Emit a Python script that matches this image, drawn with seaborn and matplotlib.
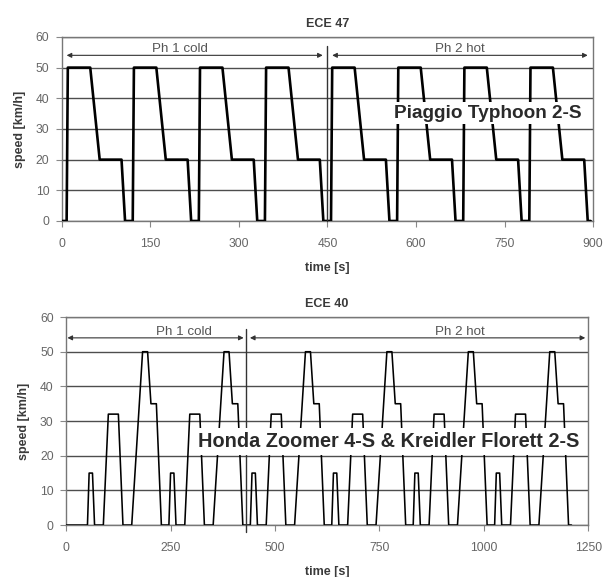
import matplotlib
matplotlib.use("Agg")
import matplotlib.pyplot as plt
import seaborn as sns
import pandas as pd

# ---------------- data ----------------
# ECE 47 (Piaggio Typhoon 2-S)
ece47_time = [0,
              8, 10, 48, 64, 101, 107,
              120, 122, 160, 176, 213, 219,
              232, 234, 272, 288, 325, 331,
              344, 346, 384, 400, 437, 443,
              456, 458, 496, 512, 549, 555,
              568, 570, 608, 624, 661, 667,
              680, 682, 720, 736, 773, 779,
              792, 794, 832, 848, 885, 891,
              896]
ece47_speed = [0,
               0, 50, 50, 20, 20, 0,
               0, 50, 50, 20, 20, 0,
               0, 50, 50, 20, 20, 0,
               0, 50, 50, 20, 20, 0,
               0, 50, 50, 20, 20, 0,
               0, 50, 50, 20, 20, 0,
               0, 50, 50, 20, 20, 0,
               0, 50, 50, 20, 20, 0,
               0]

# ECE 40 (Honda Zoomer 4-S & Kreidler Florett 2-S)
ece40_time = [0,
              51, 55, 63, 68, 89, 101, 125, 136, 157, 183, 195, 203, 216, 228,
              246, 250, 258, 263, 284, 296, 320, 331, 352, 378, 390, 398, 411, 423,
              441, 445, 453, 458, 479, 491, 515, 526, 547, 573, 585, 593, 606, 618,
              636, 640, 648, 653, 674, 686, 710, 721, 742, 768, 780, 788, 801, 813,
              831, 835, 843, 848, 869, 881, 905, 916, 937, 963, 975, 983, 996, 1008,
              1026, 1030, 1038, 1043, 1064, 1076, 1100, 1111, 1132, 1158, 1170, 1178, 1191, 1203,
              1210]
ece40_speed = [0,
               0, 15, 15, 0, 0, 32, 32, 0, 0, 50, 50, 35, 35, 0,
               0, 15, 15, 0, 0, 32, 32, 0, 0, 50, 50, 35, 35, 0,
               0, 15, 15, 0, 0, 32, 32, 0, 0, 50, 50, 35, 35, 0,
               0, 15, 15, 0, 0, 32, 32, 0, 0, 50, 50, 35, 35, 0,
               0, 15, 15, 0, 0, 32, 32, 0, 0, 50, 50, 35, 35, 0,
               0, 15, 15, 0, 0, 32, 32, 0, 0, 50, 50, 35, 35, 0,
               0]

# phases
ece47_phase_names = ["Ph 1 cold", "Ph 2 hot"]
ece47_phase_spans = [(8, 442), (458, 891)]
ece47_phase_label_x = [200, 675]
ece47_split = 450

ece40_phase_names = ["Ph 1 cold", "Ph 2 hot"]
ece40_phase_spans = [(3, 425), (440, 1243)]
ece40_phase_label_x = [281, 943]
ece40_split = 430

y_ticks = [0, 10, 20, 30, 40, 50, 60]
ece47_xticks = [0, 150, 300, 450, 600, 750, 900]
ece40_xticks = [0, 250, 500, 750, 1000, 1250]

# ---------------- style ----------------
sns.set_theme(style="white")
plt.rcParams["font.family"] = ["Liberation Sans", "DejaVu Sans"]

GRID = "#4d4d4d"
TXT = "#3a3a3a"
TICK = "#666666"

fig = plt.figure(figsize=(6.07, 5.77), dpi=100)
ax1 = fig.add_axes([0.102, 0.617, 0.875, 0.319])
ax2 = fig.add_axes([0.109, 0.090, 0.860, 0.3605])


def style_axes(ax, xticks, xmax, title):
    ax.set_xlim(0, xmax)
    ax.set_ylim(0, 60)
    ax.set_xticks(xticks)
    ax.set_yticks(y_ticks)
    ax.yaxis.grid(True, color=GRID, lw=1.0, zorder=1)
    ax.xaxis.grid(False)
    for s in ax.spines.values():
        s.set_color("#777777")
        s.set_linewidth(1.0)
    ax.tick_params(axis="both", which="major", length=4, width=0.8, color="#888888",
                   labelsize=8.7, labelcolor=TICK, direction="out",
                   bottom=True, left=True)
    ax.tick_params(axis="x", pad=8)
    ax.tick_params(axis="y", pad=5)
    ax.set_title(title, fontsize=9, fontweight="bold", color=TXT, pad=7)
    ax.set_xlabel("time [s]", fontsize=9, fontweight="bold", color=TXT, labelpad=9)
    ax.set_ylabel("speed [km/h]", fontsize=9, fontweight="bold", color=TXT, labelpad=7)


def phases(ax, names, spans, label_x, split, y_arrow, y_top, y_bottom):
    for name, (a, b), lx in zip(names, spans, label_x):
        ax.annotate("", xy=(b, y_arrow), xytext=(a, y_arrow),
                    arrowprops=dict(arrowstyle="<|-|>", color="#333333", lw=0.8,
                                    mutation_scale=7, shrinkA=0, shrinkB=0), zorder=4)
        ax.text(lx, y_arrow + 0.1, name, ha="center", va="bottom", fontsize=9.6,
                color="#555555", zorder=4)
    ax.plot([split, split], [y_bottom, y_top], color="#333333", lw=1.0, zorder=4,
            clip_on=False)


# top chart
df47 = pd.DataFrame({"time": ece47_time, "speed": ece47_speed})
sns.lineplot(data=df47, x="time", y="speed", ax=ax1, color="black", lw=1.9,
             sort=False, estimator=None, zorder=3)
style_axes(ax1, ece47_xticks, 900, "ECE 47")
phases(ax1, ece47_phase_names, ece47_phase_spans, ece47_phase_label_x, ece47_split,
       54.0, 57.0, 0)
ax1.text(721, 35.2, "Piaggio Typhoon 2-S", ha="center", va="center", fontsize=13.7,
         fontweight="bold", color="#2a2a2a", zorder=5,
         bbox=dict(facecolor="white", edgecolor="none", boxstyle="square,pad=0.15"))

# bottom chart
df40 = pd.DataFrame({"time": ece40_time, "speed": ece40_speed})
sns.lineplot(data=df40, x="time", y="speed", ax=ax2, color="black", lw=1.15,
             sort=False, estimator=None, zorder=3)
style_axes(ax2, ece40_xticks, 1250, "ECE 40")
phases(ax2, ece40_phase_names, ece40_phase_spans, ece40_phase_label_x, ece40_split,
       54.0, 56.5, -2.0)
ax2.text(773, 24.2, "Honda Zoomer 4-S & Kreidler Florett 2-S", ha="center", va="center",
         fontsize=14.3, fontweight="bold", color="#2a2a2a", zorder=5,
         bbox=dict(facecolor="white", edgecolor="none", boxstyle="square,pad=0.2"))

fig.savefig("out.png", dpi=100)
